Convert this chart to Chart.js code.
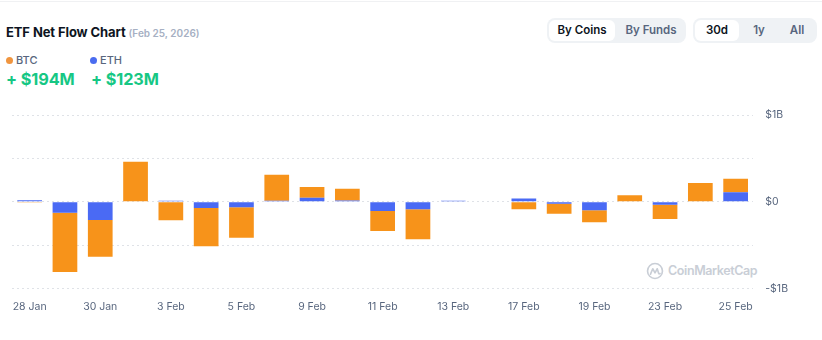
<!DOCTYPE html>
<html>
<head>
<meta charset="utf-8">
<script src="https://cdn.jsdelivr.net/npm/chart.js@4.4.1/dist/chart.umd.min.js"></script>
<style>
  body { margin: 0; width: 822px; height: 340px; background: #fff; font-family: Inter, "Noto Sans", sans-serif; overflow: hidden; position: relative; }
  .topline { position: absolute; left: 0; right: 0; top: 1px; height: 1px; background: #f0f1f3; }
  .title { position: absolute; left: 6px; top: 24px; font-size: 13px; font-weight: 700; color: #0d1421; letter-spacing: -0.1px; }
  .title span { font-size: 10px; font-weight: 600; color: #a6b0c3; letter-spacing: 0; }
  .leg { position: absolute; top: 53px; font-size: 11px; font-weight: 500; color: #58667e; }
  .leg i { display: inline-block; width: 7px; height: 7px; border-radius: 50%; margin-right: 3px; vertical-align: 0px; }
  .val { position: absolute; top: 69px; font-size: 16.3px; font-weight: 700; color: #16c784; letter-spacing: -0.1px; }
  .grp { position: absolute; top: 18px; height: 25px; background: #eff2f5; border-radius: 8px; }
  .btn { position: absolute; top: 2px; height: 21px; line-height: 21px; font-size: 11.5px; font-weight: 600; color: #58667e; text-align: center; border-radius: 6px; }
  .btn.on { background: #fff; color: #0d1421; }
  .wm { position: absolute; left: 646px; top: 262px; color: #c9ced6; font-size: 12.5px; font-weight: 600; letter-spacing: -0.4px; white-space: nowrap; }
  .wm svg { vertical-align: -5px; margin-right: 4px; }
  canvas { position: absolute; left: 0; top: 0; }
</style>
</head>
<body>
<div class="topline"></div>
<div class="title">ETF Net Flow Chart <span>(Feb 25, 2026)</span></div>
<div class="leg" style="left:6px"><i style="background:#f0953f"></i>BTC</div>
<div class="leg" style="left:90px"><i style="background:#4a6cf0"></i>ETH</div>
<div class="val" style="left:6px">+ $194M</div>
<div class="val" style="left:91px">+ $123M</div>

<div class="grp" style="left:547px;width:139px">
  <div class="btn on" style="left:2px;width:66px">By Coins</div>
  <div class="btn" style="left:70px;width:68px">By Funds</div>
</div>
<div class="grp" style="left:693px;width:124px">
  <div class="btn on" style="left:2px;width:44px">30d</div>
  <div class="btn" style="left:48px;width:36px">1y</div>
  <div class="btn" style="left:86px;width:36px">All</div>
</div>

<div class="wm"><svg width="18" height="18" viewBox="0 0 20 20"><circle cx="10" cy="10" r="8.3" fill="none" stroke="#c9ced6" stroke-width="1.8"/><path d="M5 13.5 L7.5 7.5 L10 12 L12.5 7.5 L14 12.5 Q14.6 13.6 15.6 12.8" fill="none" stroke="#c9ced6" stroke-width="1.8" stroke-linecap="round" stroke-linejoin="round"/></svg>CoinMarketCap</div>

<canvas id="flowChart" width="822" height="340"></canvas>

<script>
// Trading days shown on the x axis (16 Feb has no data)
const DAYS = [
  "28 Jan", "29 Jan", "30 Jan", "2 Feb", "3 Feb", "4 Feb", "5 Feb", "6 Feb",
  "9 Feb", "10 Feb", "11 Feb", "12 Feb", "13 Feb", "16 Feb", "17 Feb",
  "18 Feb", "19 Feb", "20 Feb", "23 Feb", "24 Feb", "25 Feb",
];

// Net flows in billions of USD
const ETH_FLOW = [
  0.018, -0.127, -0.212, 0.0, 0.01, -0.073, -0.065, 0.01,
  0.046, 0.015, -0.108, -0.088, 0.01, null, 0.038,
  -0.023, -0.1, 0.0, -0.035, 0.006, 0.108,
];
const BTC_FLOW = [
  -0.01, -0.685, -0.423, 0.46, -0.215, -0.442, -0.35, 0.3,
  0.123, 0.135, -0.23, -0.346, -0.005, null, -0.088,
  -0.115, -0.138, 0.073, -0.165, 0.21, 0.158,
];

const Y_TICKS = { "1": "$1B", "0": "$0", "-1": "-$1B" };

new Chart(document.getElementById("flowChart"), {
  type: "bar",
  data: {
    labels: DAYS,
    datasets: [
      { label: "ETH", data: ETH_FLOW, backgroundColor: "#4a6af4" },
      { label: "BTC", data: BTC_FLOW, backgroundColor: "#f7931a" },
    ],
  },
  options: {
    responsive: false,
    animation: false,
    layout: { padding: { top: 115, left: 12, right: 22, bottom: 23 } },
    categoryPercentage: 0.7,
    barPercentage: 1,
    plugins: { legend: { display: false }, tooltip: { enabled: false } },
    scales: {
      x: {
        stacked: true,
        grid: { display: false },
        border: { display: false },
        ticks: {
          autoSkip: false,
          maxRotation: 0,
          padding: 4,
          color: "#58667e",
          font: { family: "Inter", size: 10.5 },
          callback: (v, i) => (i % 2 === 0 ? DAYS[i] : ""),
        },
      },
      y: {
        stacked: true,
        position: "right",
        min: -1,
        max: 1,
        border: { display: false, dash: [2, 3] },
        grid: { color: "#dfe2e7", drawTicks: false },
        ticks: {
          stepSize: 0.5,
          padding: 12,
          color: "#58667e",
          font: { family: "Inter", size: 10.5 },
          callback: (v) => Y_TICKS[String(v)] || "",
        },
      },
    },
  },
});
</script>
</body>
</html>
